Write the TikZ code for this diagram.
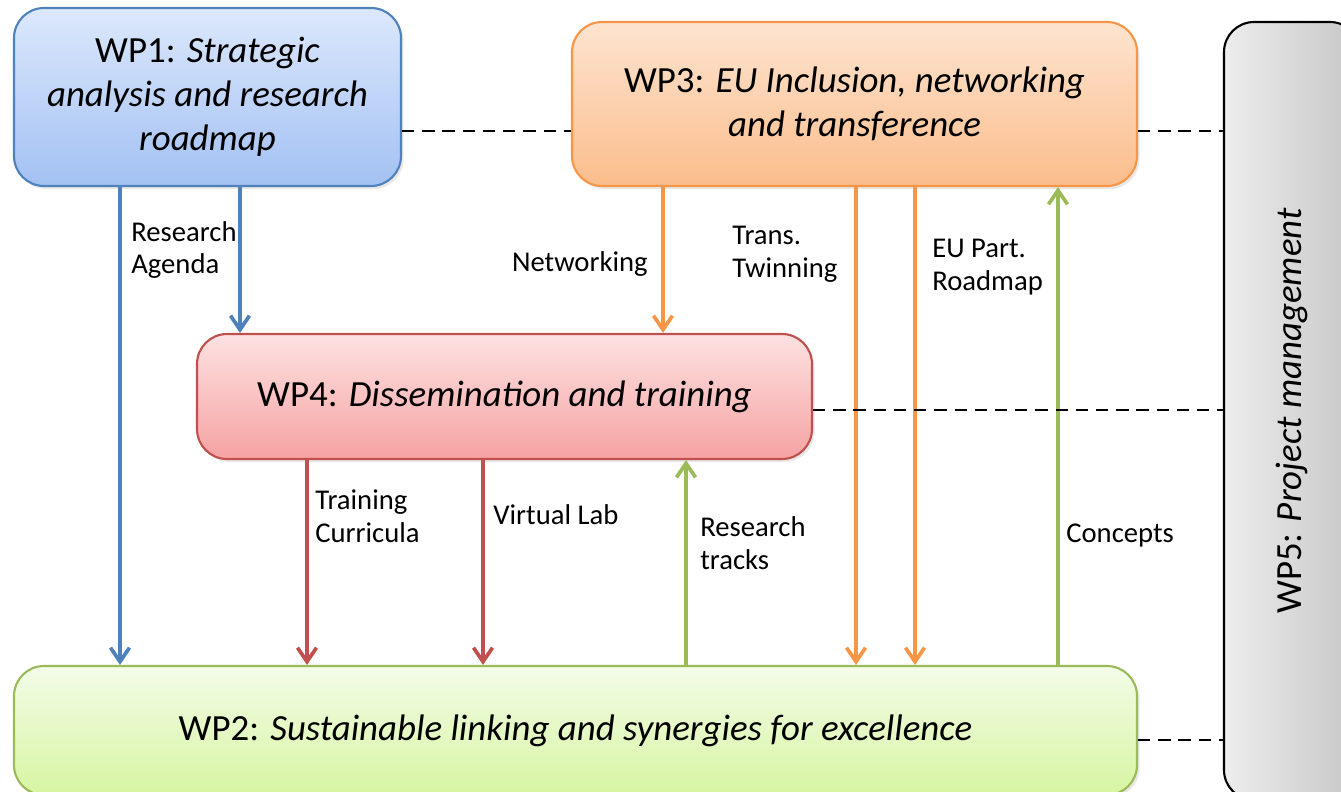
\documentclass[tikz,border=0pt]{standalone}
\usepackage{fontspec}
\setmainfont{Carlito}
\usetikzlibrary{arrows.meta,shadows}

\definecolor{wpblue}{HTML}{4F81BD}
\definecolor{wporange}{HTML}{F79646}
\definecolor{wpred}{HTML}{C0504D}
\definecolor{wpgreen}{HTML}{9BBB59}
\definecolor{blueTop}{HTML}{DCE8FC}
\definecolor{blueBot}{HTML}{A3C1F3}
\definecolor{orangeTop}{HTML}{FDE4D0}
\definecolor{orangeBot}{HTML}{FBBD8C}
\definecolor{redTop}{HTML}{FDE1E1}
\definecolor{redBot}{HTML}{F6A3A3}
\definecolor{greenTop}{HTML}{F3FCE8}
\definecolor{greenBot}{HTML}{D7F5A2}

\begin{document}
\begin{tikzpicture}[
  wp/.style={rounded corners=0.6cm, line width=1.2pt, align=center, font=\fontsize{21}{25}\selectfont, drop shadow={opacity=0.18, shadow xshift=0.05cm, shadow yshift=-0.06cm}},
  arr/.style={line width=2.1pt, -{Straight Barb[length=2.8mm, width=3.8mm]}},
  link/.style={line width=1.1pt, dash pattern=on 7pt off 4.5pt},
  lbl/.style={font=\fontsize{16.3}{18.7}\selectfont, align=left, inner sep=0pt}
]
\path[use as bounding box, clip] (0,0) rectangle (26.82,-15.82);

% Work packages
\node[wp, draw=wpblue, top color=blueTop, bottom color=blueBot, minimum width=7.74cm, minimum height=3.56cm] (wp1) at (4.15,-1.94)
  {WP1: \textit{Strategic}\\\textit{analysis and research}\\\textit{roadmap}};
\node[wp, draw=wporange, top color=orangeTop, bottom color=orangeBot, minimum width=11.3cm, minimum height=3.28cm] (wp3) at (17.09,-2.08)
  {WP3: \textit{EU Inclusion, networking}\\\textit{and transference}};
\node[wp, draw=wpred, top color=redTop, bottom color=redBot, minimum width=12.3cm, minimum height=2.5cm] (wp4) at (10.09,-7.93)
  {WP4: \textit{Dissemination and training}};
\node[wp, draw=wpgreen, top color=greenTop, bottom color=greenBot, minimum width=22.46cm, minimum height=2.58cm] (wp2) at (11.51,-14.61)
  {WP2: \textit{Sustainable linking and synergies for excellence}};
\node[wp, draw=black, rotate=90, left color=gray!14, right color=gray!45, minimum width=15.56cm, minimum height=2.72cm] (wp5) at (25.84,-8.22)
  {WP5: \textit{Project management}};

% x positions of the flows
\coordinate (xAgenda)   at (2.4,0);
\coordinate (xWp1Wp4)   at (4.8,0);
\coordinate (xNetwork)  at (13.26,0);
\coordinate (xTwinning) at (17.12,0);
\coordinate (xRoadmap)  at (18.3,0);
\coordinate (xConcepts) at (21.16,0);
\coordinate (xCurricula) at (6.14,0);
\coordinate (xLab)      at (9.66,0);
\coordinate (xTracks)   at (13.72,0);

% Flows
\draw[arr, wpblue] (wp1.south -| xAgenda) -- (wp2.north -| xAgenda);
\draw[arr, wpblue] (wp1.south -| xWp1Wp4) -- (wp4.north -| xWp1Wp4);
\draw[arr, wporange] (wp3.south -| xNetwork) -- (wp4.north -| xNetwork);
\draw[arr, wporange] (wp3.south -| xTwinning) -- (wp2.north -| xTwinning);
\draw[arr, wporange] (wp3.south -| xRoadmap) -- (wp2.north -| xRoadmap);
\draw[arr, wpgreen] (wp2.north -| xConcepts) -- (wp3.south -| xConcepts);
\draw[arr, wpred] (wp4.south -| xCurricula) -- (wp2.north -| xCurricula);
\draw[arr, wpred] (wp4.south -| xLab) -- (wp2.north -| xLab);
\draw[arr, wpgreen] (wp2.north -| xTracks) -- (wp4.south -| xTracks);

% Flow labels
\node[lbl, anchor=west] (agenda) at (2.62,-5.0) {Research\\Agenda};
\node[lbl, anchor=east] (network) at (12.96,-5.28) {Networking};
\node[lbl, anchor=west] (twinning) at (14.64,-5.08) {Trans.\\Twinning};
\node[lbl, anchor=west] (roadmap) at (18.64,-5.34) {EU Part.\\Roadmap};
\node[lbl, anchor=west] (concepts) at (21.32,-10.72) {Concepts};
\node[lbl, anchor=west] (curricula) at (6.3,-10.32) {Training\\Curricula};
\node[lbl, anchor=west] (lab) at (9.86,-10.3) {Virtual Lab};
\node[lbl, anchor=west] (tracks) at (14.0,-10.86) {Research\\tracks};

% Links to project management
\coordinate (yTop) at (0,-2.62);
\coordinate (yMid) at (0,-8.2);
\coordinate (yLow) at (0,-14.8);
\draw[link] (wp1.east |- yTop) -- (wp3.west |- yTop);
\draw[link] (wp3.east |- yTop) -- (wp5.north |- yTop);
\draw[link] (wp4.east |- yMid) -- (wp5.north |- yMid);
\draw[link] (wp2.east |- yLow) -- (wp5.north |- yLow);
\end{tikzpicture}
\end{document}
